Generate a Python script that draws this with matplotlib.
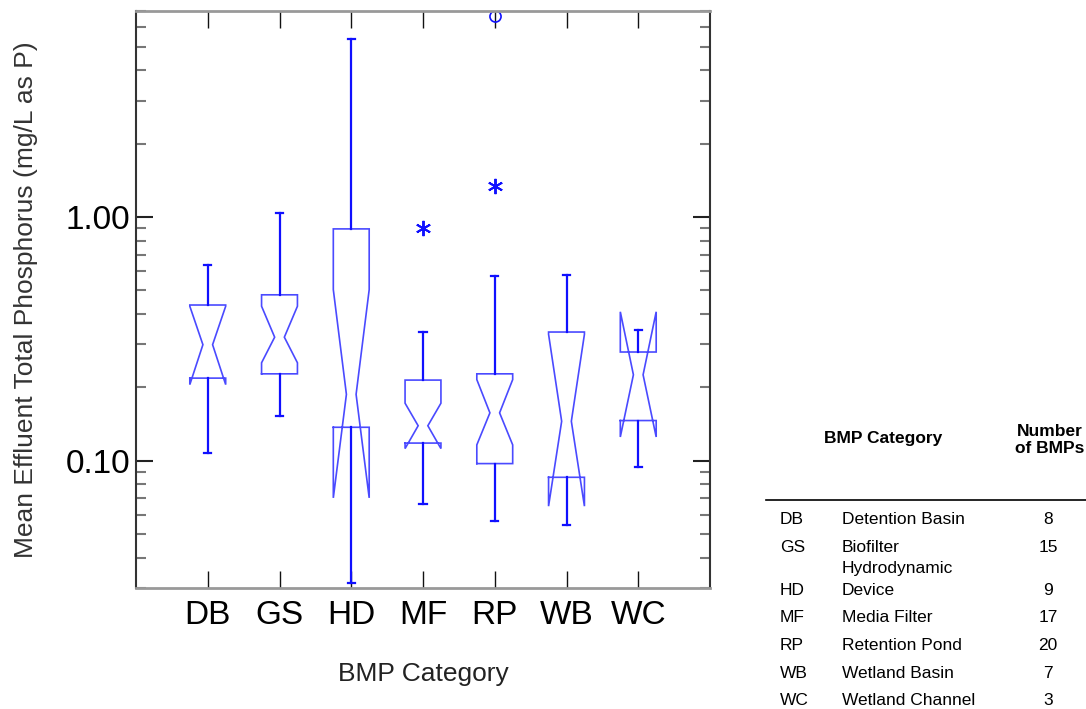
import matplotlib
matplotlib.use("Agg")
import matplotlib.pyplot as plt
from matplotlib.ticker import FixedLocator, NullFormatter

plt.rcParams['font.family'] = ['Liberation Sans', 'DejaVu Sans']

# Box statistics (mg/L as P)
categories = ["DB", "GS", "HD", "MF", "RP", "WB", "WC"]
whislo = [0.107, 0.153, 0.0315, 0.0664, 0.0567, 0.0546, 0.0939]
q1 = [0.218, 0.227, 0.137, 0.118, 0.0972, 0.0854, 0.146]
cilo = [0.205, 0.252, 0.0703, 0.112, 0.116, 0.0650, 0.125]
med = [0.299, 0.321, 0.187, 0.139, 0.157, 0.145, 0.225]
cihi = [0.430, 0.430, 0.503, 0.172, 0.215, 0.330, 0.408]
q3 = [0.435, 0.479, 0.893, 0.214, 0.227, 0.337, 0.279]
whishi = [0.635, 1.035, 5.38, 0.337, 0.574, 0.578, 0.345]
star_outliers = [[], [], [], [0.90], [1.34], [], []]
circle_outliers = [[], [], [], [], [6.66], [], []]

# Table on the right
table_codes = ["DB", "GS", "HD", "MF", "RP", "WB", "WC"]
table_names = ["Detention Basin", "Biofilter", "Hydrodynamic\nDevice", "Media Filter",
               "Retention Pond", "Wetland Basin", "Wetland Channel"]
table_counts = [8, 15, 9, 17, 20, 7, 3]

W, H = 1086, 709
fig = plt.figure(figsize=(W / 100, H / 100), dpi=100)
ax = fig.add_axes([136 / W, 1 - 588 / H, 574 / W, 577 / H])

box_col = "#4a4aff"
whisk_col = "#1010ff"
hw = 0.25          # half box width
nw = hw * 0.27     # half width at the notch
cw = 0.05          # half cap width

for i, name in enumerate(categories):
    p = i + 1
    xs = [p - hw, p + hw, p + hw, p + nw, p + hw, p + hw, p - hw, p - hw, p - nw, p - hw, p - hw]
    ys = [q1[i], q1[i], cilo[i], med[i], cihi[i], q3[i], q3[i], cihi[i], med[i], cilo[i], q1[i]]
    ax.plot(xs, ys, color=box_col, lw=1.2, solid_joinstyle="miter")
    # whiskers and caps
    ax.plot([p, p], [q1[i], whislo[i]], color=whisk_col, lw=1.6)
    ax.plot([p, p], [q3[i], whishi[i]], color=whisk_col, lw=1.6)
    ax.plot([p - cw, p + cw], [whislo[i], whislo[i]], color=whisk_col, lw=1.6)
    ax.plot([p - cw, p + cw], [whishi[i], whishi[i]], color=whisk_col, lw=1.6)
    for v in star_outliers[i]:
        ax.plot(p, v, marker=(6, 2, 0), color=whisk_col, ms=11, mew=1.4)
    for v in circle_outliers[i]:
        ax.plot(p, v, marker="o", mfc="none", mec=whisk_col, ms=8, mew=1.2)

ax.set_yscale("log")
ax.set_ylim(0.03, 7.0)
ax.set_xlim(0, 8)

ax.set_xticks(range(1, len(categories) + 1))
ax.set_xticklabels(categories, fontsize=24)
ax.set_yticks([0.1, 1.0])
ax.set_yticklabels(["0.10", "1.00"], fontsize=24)
minor = [0.03, 0.04, 0.05, 0.06, 0.07, 0.08, 0.09,
         0.2, 0.3, 0.4, 0.5, 0.6, 0.7, 0.8, 0.9,
         2, 3, 4, 5, 6, 7]
ax.yaxis.set_minor_locator(FixedLocator(minor))
ax.yaxis.set_minor_formatter(NullFormatter())

ax.tick_params(axis="x", which="major", direction="in", top=True, bottom=True,
               length=12.5, width=1.0, color="#111111", pad=9)
ax.tick_params(axis="y", which="major", direction="in", left=True, right=True,
               length=12.5, width=1.5, color="#222222", pad=4)
ax.tick_params(axis="y", which="minor", direction="in", left=True, right=True,
               length=7, width=1.5, color="#777777")

for side in ["left", "right"]:
    ax.spines[side].set_color("#333333")
    ax.spines[side].set_linewidth(1.5)
for side in ["top", "bottom"]:
    ax.spines[side].set_color("#999999")
    ax.spines[side].set_linewidth(2.0)

ax.set_xlabel("BMP Category", fontsize=19, color="#222222")
ax.set_ylabel("Mean Effluent Total Phosphorus (mg/L as P)", fontsize=19, color="#333333")
ax.xaxis.set_label_coords(0.5, -0.128)
ax.yaxis.set_label_coords(-0.171, 0.5)

# Table
def fy(py):
    return 1 - py / H

fs = 12.5
fig.text(883 / W, fy(439), "BMP Category", fontsize=fs, fontweight="bold",
         ha="center", va="center")
fig.text(1050 / W, fy(440), "Number\nof BMPs", fontsize=fs, fontweight="bold",
         ha="center", va="center", linespacing=1.2)
fig.add_artist(plt.Line2D([766 / W, 1.0], [fy(500), fy(500)], color="black", lw=1.2))

row_step = 27.5
line_step = 21.5
cursor = 520 - row_step
for code, nm, cnt in zip(table_codes, table_names, table_counts):
    lines = nm.split("\n")
    if len(lines) == 1:
        cursor += row_step
        fig.text(842 / W, fy(cursor), nm, fontsize=fs, ha="left", va="center")
    else:
        for ln in lines:
            cursor += line_step
            fig.text(842 / W, fy(cursor), ln, fontsize=fs, ha="left", va="center")
    fig.text(780 / W, fy(cursor), code, fontsize=fs, ha="left", va="center")
    fig.text(1048 / W, fy(cursor), str(cnt), fontsize=fs, ha="center", va="center")

fig.savefig("out.png", dpi=100)
